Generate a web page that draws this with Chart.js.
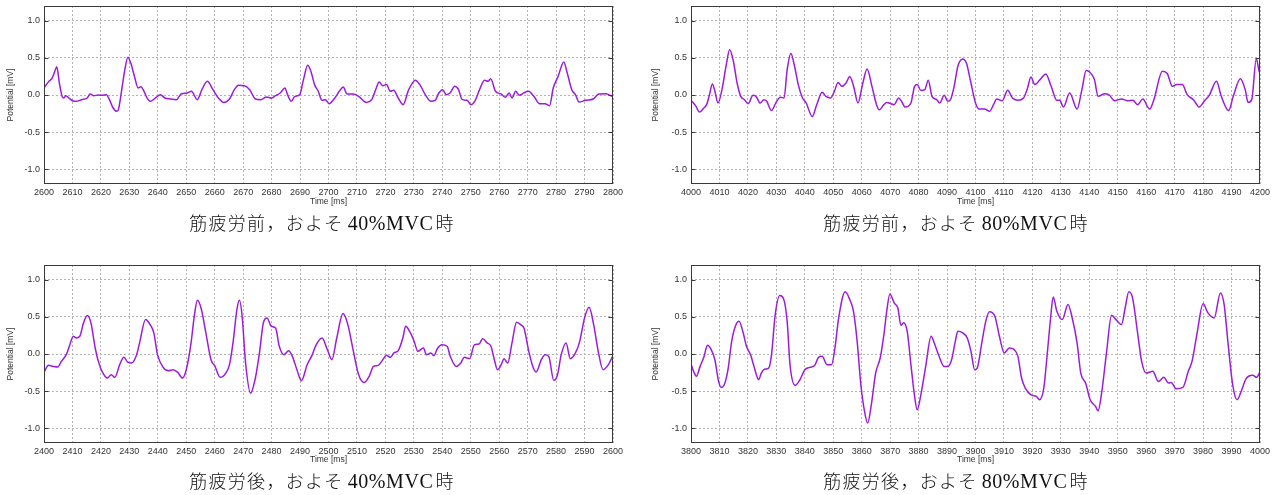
<!DOCTYPE html>
<html><head><meta charset="utf-8">
<script src="https://cdn.jsdelivr.net/npm/chart.js@4/dist/chart.umd.min.js"></script>
<style>
html,body{margin:0;padding:0;background:#fff;width:1277px;height:495px;overflow:hidden;}
canvas{position:absolute;}
.cap{position:absolute;width:400px;text-align:center;line-height:24px;height:24px;color:#111;white-space:nowrap;}
.jp{font-family:"Noto Sans CJK JP";font-size:18px;letter-spacing:1.3px;font-weight:300;}
.lat{font-family:"Liberation Serif";font-size:20px;letter-spacing:0.6px;margin-left:4px;margin-right:2px;}
</style></head><body>
<canvas id="cA" width="640" height="210" style="left:0;top:0"></canvas>
<canvas id="cB" width="637" height="210" style="left:640px;top:0"></canvas>
<canvas id="cC" width="640" height="210" style="left:0;top:258px"></canvas>
<canvas id="cD" width="637" height="210" style="left:640px;top:258px"></canvas>
<div class="cap" style="left:122px;top:210px"><span class="jp">筋疲労前，およそ</span><span class="lat">40%MVC</span><span class="jp">時</span></div>
<div class="cap" style="left:756px;top:210px"><span class="jp">筋疲労前，およそ</span><span class="lat">80%MVC</span><span class="jp">時</span></div>
<div class="cap" style="left:122px;top:468px"><span class="jp">筋疲労後，およそ</span><span class="lat">40%MVC</span><span class="jp">時</span></div>
<div class="cap" style="left:756px;top:468px"><span class="jp">筋疲労後，およそ</span><span class="lat">80%MVC</span><span class="jp">時</span></div>
<script>
// Panel A: before fatigue, ~40% MVC
const tA = [2600,2601.6,2602.9,2604.2,2604.5,2605.4,2606.4,2607,2607.7,2608.7,
2610,2611.3,2613.2,2615.2,2616.2,2617.5,2619,2620.4,2621.9,2623,
2624.3,2625.6,2626.2,2627.5,2628.4,2629.5,2630.5,2631.8,2633.1,2634,
2634.9,2636.2,2637.3,2639.2,2640.9,2642.5,2644.4,2646.6,2648.3,2650.3,
2651.8,2653.9,2655.5,2657.4,2659.4,2661.3,2663.2,2665.2,2666.9,2668.4,
2670.4,2672.3,2674.3,2676.2,2678.2,2679.9,2681.4,2683,2684.7,2685.6,
2686.9,2688.2,2689.9,2691.2,2692.7,2693.8,2695.1,2696.4,2697.7,2698.9,
2700.2,2702.2,2703.8,2705.2,2706.5,2708.7,2710.6,2713.2,2715.2,2716.8,
2717.8,2719.1,2720.4,2721.7,2722.9,2724.5,2726.2,2728.2,2730.5,2732.1,
2734,2736,2737.5,2738.8,2740.1,2741.4,2742.7,2744.4,2745.7,2747,
2748.7,2750,2751.6,2753.1,2754.8,2756.1,2757,2758.7,2760.6,2762.2,
2763.5,2764.5,2765.8,2767.1,2768.6,2770.3,2772.2,2774.2,2776.1,2777.7,
2779,2780.7,2782.7,2783.9,2785.5,2786.8,2788.1,2790.4,2793.1,2795,
2797.6,2799.7,2800];
const vA = [0.095,0.18,0.23,0.36,0.38,0.16,-0.02,-0.04,-0.01,-0.04,
-0.077,-0.085,-0.063,-0.04,0.013,-0.01,0.0,-0.005,0.005,-0.063,
-0.175,-0.22,-0.19,0.117,0.34,0.51,0.43,0.25,0.095,0.11,
0.07,-0.04,-0.085,-0.04,0.005,-0.04,-0.054,-0.063,0.018,0.027,
0.05,-0.063,0.072,0.185,0.072,-0.04,-0.1,-0.054,0.072,0.13,
0.126,0.072,-0.054,-0.063,-0.027,-0.04,-0.009,0.027,0.095,0.005,
-0.085,-0.018,0.005,0.207,0.40,0.32,0.14,0.05,-0.072,-0.063,
-0.117,-0.04,0.05,0.108,0.014,0.014,-0.018,-0.1,-0.063,0.095,
0.176,0.126,0.14,0.05,0.063,-0.04,-0.13,0.072,0.2,0.14,
0.005,-0.085,-0.072,0.027,0.072,0.005,0.027,0.117,0.072,-0.063,
-0.072,-0.13,-0.072,0.072,0.2,0.185,0.22,0.05,0.014,-0.03,
0.027,-0.04,0.05,-0.005,0.027,0.05,-0.018,-0.117,-0.117,-0.144,
0.095,0.25,0.446,0.3,0.072,0.005,-0.095,-0.072,-0.054,0.014,
0.018,-0.018,-0.02];

// Panel B: before fatigue, ~80% MVC
const tB = [4000,4001.6,4003,4004.5,4005.5,4006.5,4007.5,4008.4,4009.5,4011,
4012.3,4013.6,4014.9,4016.2,4017.5,4018.8,4020.1,4021.8,4023,4024.3,
4025.6,4026.6,4028.3,4029.9,4031.4,4032.7,4033.8,4035.1,4036.4,4037.7,
4039.2,4040.5,4042.6,4044.2,4046.1,4047.4,4049.1,4050.4,4051.7,4053,
4054.5,4055.8,4057.1,4058.7,4060.4,4061.9,4063.6,4065.2,4066.2,4067.8,
4068.8,4071.4,4073,4074,4075.3,4077.3,4078.6,4079.5,4080.8,4082.2,
4083.4,4084.7,4086.4,4087.4,4089,4090.3,4091.2,4092.5,4093.8,4095.5,
4096.8,4098.4,4100,4101.3,4103.2,4104.9,4106.5,4107.4,4109.4,4111.3,
4113,4114.9,4116.9,4118.2,4119.5,4120.8,4122.7,4124.7,4126.6,4128.6,
4129.6,4130.9,4133.1,4135.7,4137.4,4138.9,4140.9,4141.8,4143.1,4145.5,
4147,4148.8,4151.4,4153.4,4155.3,4157,4158.8,4161.2,4162.7,4165.7,
4167.4,4169.2,4170.8,4172.7,4174.4,4176.6,4178.6,4180.5,4182.1,4184.7,
4186.4,4189,4190.6,4193.1,4194.8,4195.8,4197.1,4198.7,4199.7,4200];
const vB = [-0.072,-0.144,-0.23,-0.176,-0.13,0.005,0.15,0.05,-0.108,0.095,
0.387,0.61,0.455,0.162,-0.018,-0.063,-0.117,-0.005,-0.027,-0.108,
-0.063,-0.085,-0.21,-0.1,-0.03,-0.04,0.34,0.56,0.387,0.14,
-0.04,-0.108,-0.29,-0.13,0.036,-0.018,-0.04,0.05,0.17,0.117,
0.162,0.25,0.126,-0.108,0.162,0.35,0.117,-0.13,-0.2,-0.13,
-0.1,-0.13,-0.04,-0.085,-0.162,-0.108,0.117,0.14,0.06,0.072,
0.2,-0.018,-0.063,-0.108,-0.005,-0.085,-0.063,0.117,0.387,0.486,
0.43,0.162,-0.108,-0.19,-0.19,-0.22,-0.117,-0.054,-0.077,0.063,
-0.04,-0.072,-0.04,0.081,0.243,0.14,0.207,0.284,0.117,-0.072,
-0.072,-0.162,0.027,-0.19,0.072,0.33,0.275,0.207,-0.018,0.018,
0.0,-0.077,-0.054,-0.077,-0.072,-0.13,-0.054,-0.19,-0.063,0.32,
0.29,0.117,0.14,0.14,0.005,-0.063,-0.162,-0.077,-0.009,0.185,
-0.018,-0.21,-0.018,0.22,0.072,-0.1,-0.063,0.49,0.32,0.3];

// Panel C: after fatigue, ~40% MVC
const tC = [2400,2401.6,2403.2,2404.8,2406.1,2408,2408.9,2410.3,2411.3,2412.6,
2413.9,2415.2,2416.5,2418,2419.1,2420.4,2422.3,2423.6,2424.9,2426.6,
2428.1,2429.4,2430.8,2432.5,2433.6,2435.7,2437.3,2438.6,2439.9,2441.8,
2443.8,2445.3,2447,2448.7,2450,2451.6,2452.9,2453.9,2455.2,2456.8,
2458.7,2460,2461.9,2463.9,2465.2,2466.5,2467.8,2468.7,2469.7,2470.8,
2472.6,2474.3,2475.8,2477.1,2478.4,2479.9,2481.4,2482.7,2484.3,2486,
2487.3,2488.9,2490.5,2492.5,2494.2,2495.7,2497.7,2499.6,2501.2,2502.9,
2505.1,2506.8,2508.4,2510.6,2512.6,2514.3,2515.8,2517.5,2519.1,2520.4,
2521.7,2523,2524.5,2526.2,2527.1,2528.8,2530.1,2531.4,2533.4,2534.4,
2536,2537,2538.4,2539.9,2541.7,2542.8,2544.9,2546.5,2547.7,2549.6,
2551.3,2552.9,2554.2,2555.8,2557.1,2558.3,2559.4,2560.7,2561.7,2563,
2564.5,2566.1,2567.8,2568.7,2570.4,2571.8,2573,2574.8,2576.1,2577.4,
2579.2,2580.5,2581.8,2583.5,2585,2586.8,2588.3,2590,2591.6,2593.2,
2594.8,2596.5,2598.4,2599.7,2600];
const vC = [-0.243,-0.153,-0.167,-0.176,-0.1,0.005,0.104,0.24,0.216,0.24,
0.42,0.518,0.42,0.081,-0.1,-0.234,-0.324,-0.28,-0.315,-0.144,
-0.045,-0.108,-0.12,-0.018,0.15,0.464,0.396,0.284,-0.009,-0.176,
-0.225,-0.212,-0.248,-0.324,-0.212,0.126,0.53,0.725,0.62,0.306,
-0.077,-0.158,-0.315,-0.257,-0.144,0.171,0.6,0.725,0.486,-0.1,
-0.527,-0.324,0.036,0.42,0.486,0.374,0.35,0.104,-0.009,0.045,
-0.032,-0.212,-0.36,-0.144,-0.018,0.126,0.216,0.059,-0.077,0.216,
0.545,0.396,0.104,-0.28,-0.383,-0.302,-0.167,-0.153,-0.077,-0.018,
-0.045,0.014,0.045,0.225,0.374,0.284,0.171,0.036,0.081,-0.009,
0.014,-0.023,0.081,0.126,0.104,-0.032,-0.167,-0.122,-0.045,-0.063,
0.126,0.135,0.207,0.149,0.104,-0.077,-0.212,-0.144,-0.063,-0.122,
0.149,0.428,0.387,0.35,0.036,-0.167,-0.243,-0.077,-0.009,-0.032,
-0.356,-0.28,-0.009,0.149,-0.063,0.014,0.171,0.486,0.63,0.396,
0.036,-0.212,-0.144,-0.045,-0.03];

// Panel D: after fatigue, ~80% MVC
const tD = [3800,3801,3801.9,3803.2,3804.5,3805.8,3807.1,3808.4,3809.7,3810.6,
3811.7,3813,3814.3,3815.6,3816.9,3818.2,3819.5,3821,3822.3,3823.8,
3824.7,3826,3827.3,3828.3,3829.6,3831.2,3832.5,3833.8,3834.8,3836.6,
3838.3,3840,3841.8,3843.5,3844.8,3846.1,3847.8,3849.4,3850.6,3851.9,
3854.2,3855.8,3857.1,3858.4,3859.7,3861,3862.1,3863.4,3864.9,3866.5,
3867.8,3868.8,3869.9,3871.4,3872.7,3873.8,3874.7,3876,3877.3,3878.6,
3879.5,3880.8,3882.5,3884.4,3885.5,3887,3889,3890.3,3891.6,3892.9,
3893.8,3895.5,3897.1,3898.4,3899.7,3900.6,3902.3,3903.6,3904.9,3906.8,
3908.4,3910.1,3911.9,3913.6,3914.9,3916.2,3917.5,3919.5,3921.4,3922.5,
3924,3925.3,3926.4,3927.3,3928.6,3930.5,3932.5,3934,3935.7,3937,
3938.7,3940.3,3942.2,3943.1,3944.4,3946.1,3947.8,3949.4,3951.3,3952.6,
3953.9,3955.2,3956.9,3958.4,3960,3962.3,3964.3,3966.2,3967.8,3968.8,
3970.5,3972.9,3974.8,3976.1,3977.8,3980,3981.7,3983.9,3986.1,3987.4,
3988.7,3990.4,3991.9,3993.6,3994.9,3996,3997.5,3998.8,4000];
const vD = [-0.135,-0.243,-0.3,-0.167,-0.045,0.117,0.059,-0.077,-0.37,-0.45,
-0.414,-0.212,0.171,0.374,0.44,0.306,0.104,-0.018,-0.19,-0.347,
-0.257,-0.203,-0.19,-0.009,0.53,0.788,0.748,0.44,-0.144,-0.423,
-0.347,-0.212,-0.18,-0.153,-0.045,-0.032,-0.144,-0.144,0.081,0.486,
0.838,0.734,0.577,0.171,-0.414,-0.775,-0.932,-0.68,-0.257,-0.054,
0.261,0.577,0.81,0.69,0.62,0.387,0.42,0.306,-0.144,-0.572,
-0.752,-0.55,-0.167,0.239,0.149,-0.009,-0.167,-0.167,-0.077,0.171,
0.306,0.284,0.216,0.036,-0.212,-0.19,0.171,0.44,0.568,0.51,
0.239,0.014,0.081,0.059,-0.032,-0.324,-0.46,-0.55,-0.572,-0.617,
-0.46,0.036,0.486,0.77,0.577,0.464,0.667,0.486,0.149,-0.257,
-0.392,-0.617,-0.707,-0.766,-0.505,0.036,0.523,0.464,0.396,0.62,
0.838,0.757,0.306,-0.1,-0.257,-0.234,-0.37,-0.315,-0.392,-0.383,
-0.468,-0.45,-0.234,-0.1,0.261,0.676,0.554,0.486,0.824,0.667,
0.171,-0.414,-0.617,-0.482,-0.347,-0.3,-0.288,-0.315,-0.243];

const yTicks = [-1.0,-0.5,0.0,0.5,1.0];
const xTitle = 'Time [ms]';
const yTitle = 'Potential [mV]';

const framePlugin = {
  id: 'frame',
  afterDraw(chart) {
    const {ctx, chartArea: a} = chart;
    const ys = chart.scales.y;
    ctx.save();
    ctx.strokeStyle = '#3a3a3a';
    ctx.lineWidth = 1;
    const L = Math.round(a.left) + 0.5, R = Math.round(a.right) - 0.5;
    const T = Math.round(a.top) + 0.5, B = Math.round(a.bottom) - 0.5;
    ctx.strokeRect(L, T, R - L, B - T);
    ctx.beginPath();
    ys.ticks.forEach(tk => {
      const p = Math.round(ys.getPixelForValue(tk.value)) + 0.5;
      ctx.moveTo(L, p); ctx.lineTo(L + 4, p);
      ctx.moveTo(R, p); ctx.lineTo(R - 4, p);
    });
    ctx.stroke();
    ctx.restore();
  }
};

function makeChart(id, times, vals, xmin, xmax, area, canvasW, canvasH, yTitlePad) {
  const tickFont = {family: 'Liberation Sans', size: 9};
  const titleFont = {family: 'Liberation Sans', size: 8.5};
  new Chart(document.getElementById(id), {
    type: 'line',
    data: {datasets: [{
      data: times.map((t, i) => ({x: t, y: vals[i]})),
      borderColor: '#9b1ddb',
      borderWidth: 1.5,
      pointRadius: 0,
      cubicInterpolationMode: 'monotone',
      fill: false
    }]},
    options: {
      responsive: false, animation: false, devicePixelRatio: 1,
      events: [],
      layout: {padding: {top: area.t, right: canvasW - area.r, left: 0, bottom: 0}},
      plugins: {legend: {display: false}, tooltip: {enabled: false}},
      scales: {
        x: {
          type: 'linear', min: xmin, max: xmax,
          ticks: {stepSize: 10, autoSkip: false, maxRotation: 0, color: '#333', font: tickFont, padding: 3,
                  callback: v => String(Math.round(v))},
          grid: {color: '#b4b4b4', drawTicks: false, lineWidth: 1},
          border: {display: false, dash: [2, 2]},
          title: {display: true, text: xTitle, color: '#333', font: titleFont, padding: {top: 0, bottom: 3}},
          afterFit(s) { s.height = canvasH - area.b; s.paddingLeft = 0; s.paddingRight = 0; }
        },
        y: {
          type: 'linear', min: -1.2, max: 1.2,
          afterBuildTicks(s) { s.ticks = yTicks.map(v => ({value: v})); },
          ticks: {includeBounds: false, color: '#333', font: tickFont, padding: 4,
                  callback: v => v.toFixed(1)},
          grid: {color: '#b4b4b4', drawTicks: false, lineWidth: 1},
          border: {display: false, dash: [2, 2]},
          title: {display: true, text: yTitle, color: '#333', font: titleFont, padding: {top: yTitlePad, bottom: 0}},
          afterFit(s) { s.width = area.l; s.paddingTop = 0; s.paddingBottom = 0; }
        }
      }
    },
    plugins: [framePlugin]
  });
}

makeChart('cA', tA, vA, 2600, 2800, {l: 44, r: 613, t: 6, b: 184}, 640, 210, 6);
makeChart('cB', tB, vB, 4000, 4200, {l: 51, r: 620, t: 6, b: 184}, 637, 210, 11);
makeChart('cC', tC, vC, 2400, 2600, {l: 44, r: 613, t: 7, b: 185}, 640, 210, 6);
makeChart('cD', tD, vD, 3800, 4000, {l: 51, r: 620, t: 7, b: 185}, 637, 210, 11);
</script>
</body></html>
